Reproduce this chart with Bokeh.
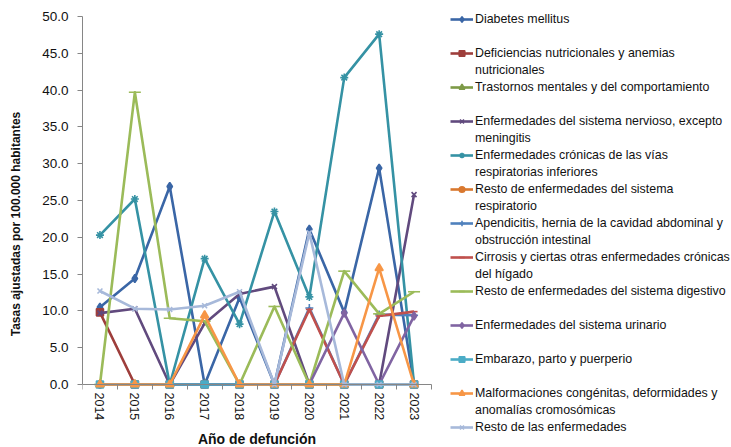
from bokeh.plotting import figure
from bokeh.models import (Range1d, FixedTicker, NumeralTickFormatter, Legend, LegendItem,
                          ColumnDataSource)
from bokeh.embed import file_html
from bokeh.resources import INLINE

YEARS = [2014, 2015, 2016, 2017, 2018, 2019, 2020, 2021, 2022, 2023]
Y_TICKS = [0, 5, 10, 15, 20, 25, 30, 35, 40, 45, 50]

DIABETES = [10.5, 14.4, 26.9, 0.0, 11.8, 0.0, 21.1, 9.8, 29.4, 0.0]
DEFICIENCIAS = [9.8, 0.0, 0.0, 0.0, 0.0, 0.0, 0.0, 0.0, 0.0, 0.0]
TRASTORNOS = [0.0, 0.0, 0.0, 0.0, 0.0, 0.0, 0.0, 0.0, 0.0, 0.0]
NERVIOSO = [9.7, 10.3, 0.0, 8.3, 12.3, 13.3, 0.0, 0.0, 0.0, 25.8]
CRONICAS_RESP = [20.3, 25.2, 0.0, 17.1, 8.2, 23.5, 11.9, 41.7, 47.6, 0.0]
RESTO_RESP = [0.0, 0.0, 0.0, 0.0, 0.0, 0.0, 0.0, 0.0, 0.0, 0.0]
APENDICITIS = [0.0, 0.0, 0.0, 0.0, 0.0, 0.0, 10.4, 0.0, 9.5, 9.4]
CIRROSIS = [0.0, 0.0, 0.0, 0.0, 0.0, 0.0, 10.2, 0.0, 9.3, 9.9]
RESTO_DIGESTIVO = [0.0, 39.7, 9.0, 8.6, 0.0, 10.6, 0.0, 15.4, 9.6, 12.6]
URINARIO = [0.0, 0.0, 0.0, 0.0, 0.0, 0.0, 0.0, 9.7, 0.0, 9.3]
EMBARAZO = [0.0, 0.0, 0.0, 0.0, 0.0, 0.0, 0.0, 0.0, 0.0, 0.0]
MALFORMACIONES = [0.0, 0.0, 0.0, 9.4, 0.0, 0.0, 0.0, 0.0, 15.8, 0.0]
RESTO_ENF = [12.7, 10.3, 10.2, 10.7, 12.6, 0.0, 20.6, 0.0, 0.0, 0.0]

NAMES = [
    "Diabetes mellitus",
    "Deficiencias nutricionales y anemias\nnutricionales",
    "Trastornos mentales y del comportamiento",
    "Enfermedades del sistema nervioso, excepto\nmeningitis",
    "Enfermedades crónicas de las vías\nrespiratorias inferiores",
    "Resto de enfermedades del sistema\nrespiratorio",
    "Apendicitis, hernia de la cavidad abdominal y\nobstrucción intestinal",
    "Cirrosis y ciertas otras enfermedades crónicas\ndel hígado",
    "Resto de enfermedades del sistema digestivo",
    "Enfermedades del sistema urinario",
    "Embarazo, parto y puerperio",
    "Malformaciones congénitas, deformidades y\nanomalías cromosómicas",
    "Resto de las enfermedades",
]
SERIES = [DIABETES, DEFICIENCIAS, TRASTORNOS, NERVIOSO, CRONICAS_RESP, RESTO_RESP,
          APENDICITIS, CIRROSIS, RESTO_DIGESTIVO, URINARIO, EMBARAZO, MALFORMACIONES, RESTO_ENF]
COLORS = ["#3A66A6", "#9E3E3B", "#7D9A47", "#614A7E", "#3592A4", "#D9782F",
          "#4F81BD", "#C0504D", "#9BBB59", "#8064A2", "#4BACC6", "#F79646", "#A7B9DA"]
MARKERS = ["diamond", "square", "triangle", "x", "asterisk", "circle",
           "cross", "dash", "dash", "diamond", "square", "triangle", "x"]
MSIZES = [8, 7, 8, 7, 8, 7, 8, 7, 12, 8, 7, 8, 7]

FONT = "Liberation Sans"
AXIS_GRAY = "#868686"
TEXT = "#111111"

# layout (pixels): the frame covers the whole canvas right of the y axis;
# the axes are limited to the plotting region with bounds.
W, H = 731, 447
PLOT_L, PLOT_R, PLOT_T, PLOT_B = 82, 431, 16, 384
X0, X1 = YEARS[0] - 0.5, YEARS[-1] + 0.5
Y0, Y1 = 0.0, 50.0
x_end = X0 + (X1 - X0) * (W - PLOT_L) / (PLOT_R - PLOT_L)
units_per_px = (Y1 - Y0) / (PLOT_B - PLOT_T)
y_start = Y0 - units_per_px * (H - PLOT_B)
y_end = Y1 + units_per_px * PLOT_T

p = figure(width=W, height=H, output_backend="svg", toolbar_location=None,
           x_range=Range1d(X0, x_end), y_range=Range1d(y_start, y_end),
           min_border_left=PLOT_L, min_border_right=0, min_border_top=0,
           min_border_bottom=0)
p.outline_line_color = None
p.xgrid.visible = False
p.ygrid.visible = False

line_rs, mark_rs = [], []
for vals, col, mk, ms in zip(SERIES, COLORS, MARKERS, MSIZES):
    line_rs.append(p.line(YEARS, vals, line_color=col, line_width=2.6, line_join="round"))
    mark_rs.append(p.scatter(YEARS, vals, marker=mk, size=ms, fill_color=col, line_color=col,
                             line_width=1.6))

blank = p.line(x="x", y="y", source=ColumnDataSource(dict(x=[], y=[])), line_alpha=0)

items = []
for name, lr, mr in zip(NAMES, line_rs, mark_rs):
    parts = name.split("\n")
    items.append(LegendItem(label=parts[0], renderers=[lr, mr]))
    items.append(LegendItem(label=parts[1] if len(parts) > 1 else " ", renderers=[blank]))
items = items[:-1]

GLYPH_H, SPACING = 14, 3
leg_h = len(items) * GLYPH_H + (len(items) - 1) * SPACING
LEG_LEFT, LEG_TOP = 450, 12
legend = Legend(items=items, location=(LEG_LEFT - PLOT_L, H - (LEG_TOP + leg_h)),
                glyph_width=23, glyph_height=GLYPH_H, label_height=GLYPH_H, spacing=SPACING,
                padding=0, margin=0, label_standoff=2, border_line_color=None,
                background_fill_alpha=0, label_text_font=FONT, label_text_font_size="12.4px",
                label_text_color=TEXT)
p.add_layout(legend)

boundaries = [y - 0.5 for y in YEARS] + [YEARS[-1] + 0.5]
p.xaxis.fixed_location = 0
p.xaxis.bounds = (X0, X1)
p.xaxis.ticker = FixedTicker(ticks=YEARS, minor_ticks=boundaries)
p.xaxis.major_label_orientation = "vertical"
p.xaxis.major_tick_out = 0
p.xaxis.major_tick_in = 0
p.xaxis.minor_tick_out = 5
p.xaxis.minor_tick_in = 0
p.xaxis.minor_tick_line_color = AXIS_GRAY
p.xaxis.major_label_standoff = 3
p.xaxis.axis_label = "Año de defunción"
p.xaxis.axis_label_standoff = 8
p.xaxis.axis_label_text_font_size = "14px"
p.xaxis.major_label_text_font_size = "12.5px"

p.yaxis.bounds = (Y0, Y1)
p.yaxis.ticker = FixedTicker(ticks=Y_TICKS)
p.yaxis.formatter = NumeralTickFormatter(format="0.0")
p.yaxis.major_tick_out = 5
p.yaxis.major_tick_in = 0
p.yaxis.minor_tick_line_color = None
p.yaxis.major_label_standoff = 9
p.yaxis.axis_label = "Tasas ajustadas por 100.000 habitantes"
p.yaxis.axis_label_standoff = 16
p.yaxis.axis_label_text_font_size = "12px"
p.yaxis.major_label_text_font_size = "13.5px"

for ax in (p.xaxis, p.yaxis):
    ax.axis_line_color = AXIS_GRAY
    ax.axis_line_width = 1
    ax.major_tick_line_color = AXIS_GRAY
    ax.major_label_text_font = FONT
    ax.major_label_text_color = TEXT
    ax.axis_label_text_font = FONT
    ax.axis_label_text_font_style = "bold"
    ax.axis_label_text_color = TEXT

open("out.html", "w").write(file_html(p, INLINE))
